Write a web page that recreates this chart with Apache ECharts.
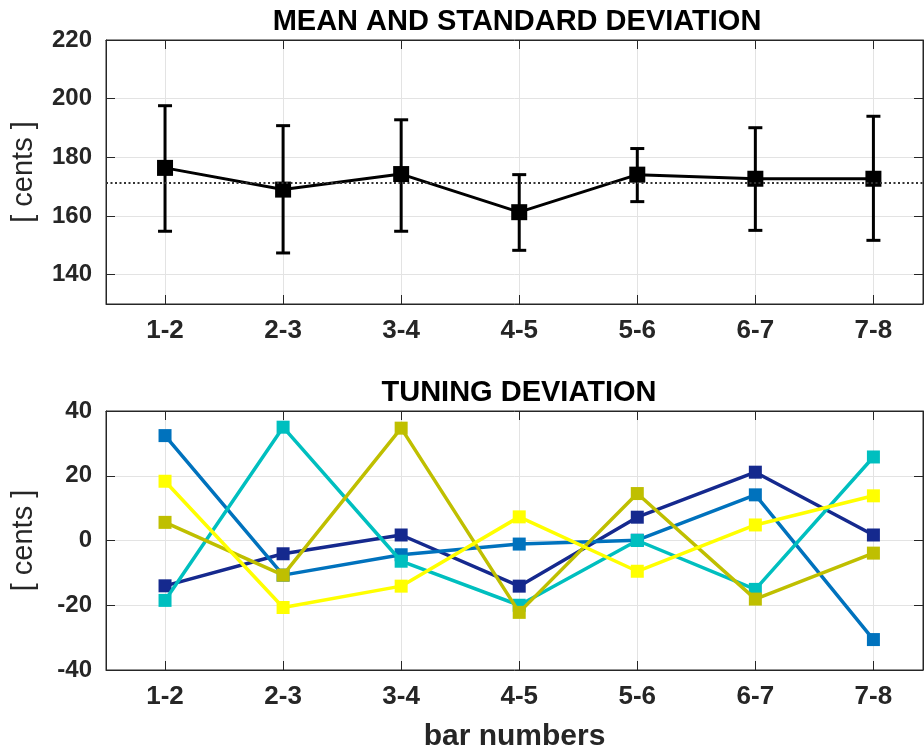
<!DOCTYPE html>
<html>
<head>
<meta charset="utf-8">
<script src="https://cdn.jsdelivr.net/npm/echarts@6/dist/echarts.min.js"></script>
<style>html,body{margin:0;padding:0;background:#fff}#c{width:924px;height:753px}</style>
</head>
<body>
<div id="c"></div>
<script>
const categories = ['1-2', '2-3', '3-4', '4-5', '5-6', '6-7', '7-8'];
const meanValues = [176.4, 169.0, 174.3, 161.3, 174.1, 172.7, 172.7];
const errLow = [154.8, 147.4, 154.8, 148.3, 164.9, 155.1, 151.7];
const errHigh = [197.6, 190.8, 192.8, 174.1, 183.0, 190.1, 194.0];
const meanTicks = [140, 160, 180, 200, 220];
const devTicks = [-40, -20, 0, 20, 40];
const seriesNavy = [-14, -4.1, 1.7, -14.1, 7.2, 21.1, 1.7];
const seriesBlue = [32.4, -10.7, -4.4, -1.1, 0.1, 14.1, -30.6];
const seriesCyan = [-18.5, 35, -6.4, -20, 0, -15.1, 25.8];
const seriesOlive = [5.6, -10.7, 34.7, -22.2, 14.5, -18.1, -3.9];
const seriesYellow = [18.3, -20.7, -14.1, 7.3, -9.5, 4.8, 13.8];
const devSeries = [
  {name: 'navy', values: seriesNavy, color: '#15298e'},
  {name: 'blue', values: seriesBlue, color: '#0072bd'},
  {name: 'cyan', values: seriesCyan, color: '#00bfbf'},
  {name: 'olive', values: seriesOlive, color: '#bfbf00'},
  {name: 'yellow', values: seriesYellow, color: '#ffff00'}
];
const grandMean = meanValues.reduce((a, b) => a + b, 0) / meanValues.length;

const FONT = 'Liberation Sans';
const xPos = categories.map((c, i) => i + 1);
const dark = '#262626';
const gridLine = {show: true, lineStyle: {color: '#e3e3e3', width: 1}};

function xAxisPair(gridIndex, showName) {
  const base = {
    type: 'value', gridIndex: gridIndex, min: 0.5, max: 7.42,
    axisLine: {show: true, onZero: false, lineStyle: {color: dark, width: 1}},
    axisTick: {show: true, inside: true, length: 9, customValues: xPos, lineStyle: {color: dark, width: 1}}
  };
  return [
    Object.assign({}, base, {
      position: 'bottom',
      splitLine: gridLine,
      axisLabel: {show: true, customValues: xPos, margin: 14, fontSize: 26, fontWeight: 'bold', color: dark, fontFamily: FONT,
        formatter: v => categories[Math.round(v) - 1] || ''},
      name: showName ? 'bar numbers' : '', nameLocation: 'middle', nameGap: 52,
      nameTextStyle: {fontSize: 30, fontWeight: 'bold', color: dark, fontFamily: FONT}
    }),
    Object.assign({}, base, {position: 'top', splitLine: {show: false}, axisLabel: {show: false}})
  ];
}
function yAxisPair(gridIndex, ticks, min, max) {
  const base = {
    type: 'value', gridIndex: gridIndex, min: min, max: max,
    axisLine: {show: true, onZero: false, lineStyle: {color: dark, width: 1}},
    axisTick: {show: true, inside: true, length: 9, customValues: ticks, lineStyle: {color: dark, width: 1}}
  };
  return [
    Object.assign({}, base, {
      position: 'left',
      splitLine: gridLine,
      axisLabel: {show: true, customValues: ticks, margin: 14, fontSize: 24, fontWeight: 'bold', color: dark, fontFamily: FONT},
      name: '[ cents ]', nameLocation: 'middle', nameGap: 68, nameRotate: 90,
      nameTextStyle: {fontSize: 29, fontWeight: 'normal', color: dark, fontFamily: FONT}
    }),
    Object.assign({}, base, {position: 'right', splitLine: {show: false}, axisLabel: {show: false}})
  ];
}

const series = [];
series.push({
  type: 'custom', xAxisIndex: 0, yAxisIndex: 0, z: 2,
  data: xPos.map((x, i) => [x, errLow[i], errHigh[i]]),
  renderItem: function (params, api) {
    const x = api.value(0);
    const lo = api.coord([x, api.value(1)]);
    const hi = api.coord([x, api.value(2)]);
    const hw = 7;
    const st = {stroke: '#000', lineWidth: 3};
    return {type: 'group', children: [
      {type: 'line', shape: {x1: lo[0], y1: lo[1], x2: hi[0], y2: hi[1]}, style: st},
      {type: 'line', shape: {x1: lo[0] - hw, y1: lo[1], x2: lo[0] + hw, y2: lo[1]}, style: st},
      {type: 'line', shape: {x1: hi[0] - hw, y1: hi[1], x2: hi[0] + hw, y2: hi[1]}, style: st}
    ]};
  }
});
series.push({
  type: 'line', xAxisIndex: 0, yAxisIndex: 0, z: 3,
  data: xPos.map((x, i) => [x, meanValues[i]]),
  symbol: 'rect', symbolSize: 16,
  lineStyle: {color: '#000', width: 3}, itemStyle: {color: '#000'},
  animation: false,
  markLine: {
    silent: true, symbol: 'none', animation: false,
    label: {show: false},
    lineStyle: {color: '#333', width: 2, type: [2, 2.5]},
    data: [{yAxis: grandMean}]
  }
});
devSeries.forEach((s, k) => {
  series.push({
    type: 'line', name: s.name, xAxisIndex: 2, yAxisIndex: 2, z: 3 + k,
    data: xPos.map((x, i) => [x, s.values[i]]),
    symbol: 'rect', symbolSize: 13,
    lineStyle: {color: s.color, width: 3.5}, itemStyle: {color: s.color},
    animation: false
  });
});

const chart = echarts.init(document.getElementById('c'), null, {renderer: 'canvas'});
chart.setOption({
  backgroundColor: '#fff',
  animation: false,
  title: [
    {text: 'MEAN AND STANDARD DEVIATION', left: 512, top: 2, textAlign: 'center',
      textStyle: {fontSize: 29, fontWeight: 'bold', color: '#000', fontFamily: FONT}},
    {text: 'TUNING DEVIATION', left: 514, top: 373, textAlign: 'center',
      textStyle: {fontSize: 29, fontWeight: 'bold', color: '#000', fontFamily: FONT}}
  ],
  grid: [
    {left: 106, top: 40, width: 817, height: 264, show: true, borderColor: dark, borderWidth: 1, backgroundColor: '#fff'},
    {left: 106, top: 411, width: 817, height: 262, show: true, borderColor: dark, borderWidth: 1, backgroundColor: '#fff'}
  ],
  xAxis: xAxisPair(0, false).concat(xAxisPair(1, true)),
  yAxis: yAxisPair(0, meanTicks, 130, 220).concat(yAxisPair(1, devTicks, -40, 40)),
  series: series
});
</script>
</body>
</html>
